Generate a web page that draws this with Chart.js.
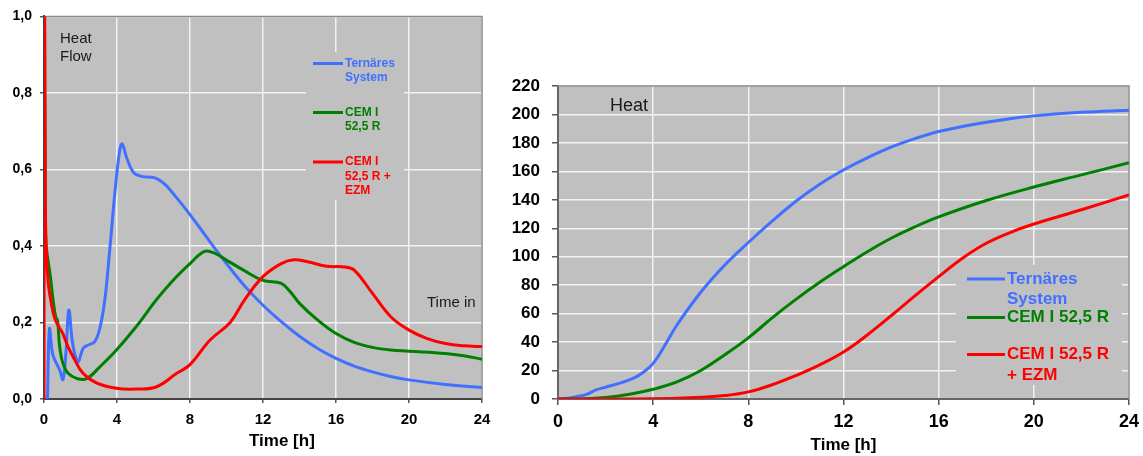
<!DOCTYPE html>
<html>
<head>
<meta charset="utf-8">
<script src="https://cdn.jsdelivr.net/npm/chart.js@4.4.1/dist/chart.umd.min.js"></script>
<style>
  html, body { margin: 0; padding: 0; background: #fff; }
  #wrap { position: relative; width: 1143px; height: 456px; overflow: hidden; }
  #flowChart { position: absolute; left: 0; top: 0; }
  #heatChart { position: absolute; left: 495px; top: 0; }
</style>
</head>
<body>
<div id="wrap">
  <canvas id="flowChart" width="495" height="456"></canvas>
  <canvas id="heatChart" width="648" height="456"></canvas>
</div>
<script>
// ---- legend labels ----
var seriesNames = ['Ternäres\nSystem', 'CEM I\n52,5 R', 'CEM I\n52,5 R +\nEZM'];
var seriesNamesHeat = ['Ternäres\nSystem', 'CEM I 52,5 R', 'CEM I 52,5 R\n+ EZM'];

// ---- data: heat flow (left), time in h ----
var flowBlueT = [0.19, 0.3, 0.46, 0.64, 0.86, 1.04, 1.2, 1.36, 1.54, 1.7, 1.87, 2.14, 2.42, 2.78, 3.06, 3.33, 3.6, 3.88, 4.12, 4.28, 4.52, 4.89, 5.34, 6.08, 6.6, 7.25, 8, 9, 10, 11, 12, 13, 14, 15, 16, 17, 18, 19, 20, 22, 24];
var flowBlueV = [0, 0.183, 0.12, 0.097, 0.076, 0.051, 0.12, 0.232, 0.154, 0.115, 0.097, 0.132, 0.141, 0.15, 0.185, 0.258, 0.389, 0.537, 0.64, 0.667, 0.632, 0.593, 0.582, 0.578, 0.562, 0.527, 0.482, 0.417, 0.354, 0.295, 0.245, 0.202, 0.164, 0.132, 0.106, 0.086, 0.071, 0.059, 0.05, 0.038, 0.03];

var flowGreenT = [0.02, 0.06, 0.1, 0.22, 0.35, 0.5, 0.64, 0.74, 0.86, 1.04, 1.32, 1.78, 2.33, 3.06, 3.97, 5.07, 6.17, 7.27, 8.0, 8.8, 9.4, 10, 11, 12, 13, 13.5, 14, 15, 16, 17, 18, 19, 20, 22, 23, 24];
var flowGreenV = [1.1, 0.55, 0.41, 0.363, 0.32, 0.258, 0.215, 0.205, 0.136, 0.093, 0.067, 0.054, 0.053, 0.084, 0.128, 0.19, 0.26, 0.32, 0.354, 0.386, 0.38, 0.363, 0.335, 0.31, 0.302, 0.28, 0.25, 0.206, 0.171, 0.148, 0.135, 0.128, 0.125, 0.119, 0.113, 0.104];

var flowRedT = [0, 0.02, 0.07, 0.1, 0.22, 0.4, 0.59, 0.8, 1.04, 1.32, 1.6, 2.14, 2.87, 3.97, 5.07, 6.17, 7.27, 8, 9.1, 10.2, 11, 12, 13, 13.7, 14.5, 15.5, 16.5, 17, 18, 19, 20, 21, 22, 23, 24];
var flowRedV = [0, 1.2, 0.6, 0.43, 0.31, 0.25, 0.21, 0.19, 0.17, 0.136, 0.11, 0.067, 0.042, 0.028, 0.026, 0.032, 0.067, 0.09, 0.154, 0.2, 0.26, 0.32, 0.354, 0.364, 0.358, 0.347, 0.345, 0.337, 0.276, 0.215, 0.18, 0.158, 0.145, 0.139, 0.137];

// ---- data: cumulative heat (right) ----
var heatBlueT = [0, 0.4, 0.8, 1.2, 1.6, 2, 2.6, 3.2, 3.6, 4, 4.5, 5, 6, 7, 8, 9, 10, 11, 12, 13, 14, 15, 16, 17, 18, 19, 20, 22, 24];
var heatBlueV = [0, 0.5, 1.7, 3.3, 6.4, 8.3, 11.2, 14.8, 19, 25, 38, 52, 75, 94, 110, 125, 139, 151, 161, 169.5, 177, 183, 188, 191.5, 194.5, 197, 199, 201.5, 203];

var heatGreenT = [0, 1, 2, 3, 4, 5, 6, 7, 8, 9, 10, 11, 12, 13, 14, 15, 16, 18, 20, 22, 24];
var heatGreenV = [0, 0, 1, 3.3, 6.8, 12, 20, 31, 43, 57, 70, 82, 93, 103.5, 113, 121, 128, 139.5, 149, 157.5, 166];

var heatRedT = [0, 2, 4, 5, 6, 7, 8, 9, 10, 11, 12, 13, 14, 15, 16, 17, 18, 19, 20, 22, 24];
var heatRedV = [0, 0, 0.2, 0.5, 1.2, 2.4, 5, 10, 16.5, 24, 33, 45, 58.5, 72.5, 86, 99, 109.5, 117, 123, 133, 143.5];

var BLUE = '#4070ff';
var GREEN = '#008000';
var RED = '#ff0000';
var FONT = '"Liberation Sans", Arial, sans-serif';

function pts(t, v) {
    return t.map(function(x, i) { return {x: x, y: v[i]}; });
}

function line(label, t, v, color, order) {
    return {
        label: label,
        data: pts(t, v),
        borderColor: color,
        borderWidth: 3,
        pointRadius: 0,
        fill: false,
        tension: 0.4,
        order: order
    };
}

// draws grey plot area, frame, notes and the in-plot legend
function panel(s) {
    return {
        id: 'panel',
        beforeDraw: function(chart) {
            var ctx = chart.ctx, a = chart.chartArea;
            ctx.save();
            ctx.fillStyle = '#c0c0c0';
            ctx.fillRect(a.left, a.top, a.right - a.left, a.bottom - a.top);
            ctx.restore();
        },
        beforeDatasetsDraw: function(chart) {
            var ctx = chart.ctx, a = chart.chartArea;
            ctx.save();
            ctx.strokeStyle = '#8a8a8a';
            ctx.lineWidth = 1.5;
            ctx.beginPath();
            ctx.moveTo(a.left, a.top);
            ctx.lineTo(a.right, a.top);
            ctx.lineTo(a.right, a.bottom);
            ctx.stroke();

            ctx.fillStyle = '#c0c0c0';
            ctx.fillRect(s.box[0], s.box[1], s.box[2], s.box[3]);

            ctx.textBaseline = 'middle';
            ctx.textAlign = 'left';
            ctx.fillStyle = '#1a1a1a';
            ctx.font = s.noteFont;
            s.notes.forEach(function(n) { ctx.fillText(n[0], n[1], n[2]); });

            ctx.font = s.legendFont;
            chart.data.datasets.forEach(function(ds, i) {
                var y = s.legendY[i];
                ctx.strokeStyle = ds.borderColor;
                ctx.lineWidth = 3;
                ctx.beginPath();
                ctx.moveTo(s.legendX, y);
                ctx.lineTo(s.legendX + s.lineLen, y);
                ctx.stroke();
                ctx.fillStyle = ds.borderColor;
                ds.label.split('\n').forEach(function(txt, j) {
                    ctx.fillText(txt, s.legendX + s.lineLen + 2, y + j * s.lineHeight);
                });
            });
            ctx.restore();
        }
    };
}

function axes(o) {
    var grid = {color: '#f2f2f2', lineWidth: 1.5, tickColor: '#555', tickLength: o.tick};
    return {
        x: {
            type: 'linear', min: 0, max: 24,
            afterFit: function(sc) { sc.height = o.xh; sc.paddingLeft = 0; sc.paddingRight = 0; },
            ticks: {stepSize: 4, color: '#000', padding: o.xpad, font: {family: FONT, size: o.xfont, weight: 'bold'}},
            grid: grid,
            border: {color: o.axisColor, width: 2},
            title: {display: true, text: o.title, color: '#000', padding: {top: 0, bottom: o.tpad},
                    font: {family: FONT, size: 17, weight: 'bold'}}
        },
        y: {
            min: 0, max: o.ymax,
            afterFit: function(sc) { sc.width = o.yw; },
            ticks: {stepSize: o.ystep, color: '#000', padding: o.ypad, font: {family: FONT, size: o.yfont, weight: 'bold'},
                    callback: o.fmt},
            grid: grid,
            border: {color: o.axisColor, width: 2}
        }
    };
}

new Chart(document.getElementById('flowChart'), {
    type: 'line',
    data: {
        datasets: [
            line(seriesNames[0], flowBlueT, flowBlueV, BLUE, 2),
            line(seriesNames[1], flowGreenT, flowGreenV, GREEN, 1),
            line(seriesNames[2], flowRedT, flowRedV, RED, 0)
        ]
    },
    options: {
        responsive: false,
        animation: false,
        layout: {padding: {left: 0, top: 16, right: 13, bottom: 0}},
        plugins: {legend: {display: false}, tooltip: {enabled: false}},
        scales: axes({
            tick: 4, xh: 57, xpad: 8, xfont: 15, tpad: 4, title: '        Time [h]',
            yw: 44, ypad: 8, yfont: 14, ymax: 1, ystep: 0.2, axisColor: '#444',
            fmt: function(v) { return v.toFixed(1).replace('.', ','); }
        })
    },
    plugins: [panel({
        box: [306, 52, 98, 148],
        notes: [['Heat', 60, 39], ['Flow', 60, 57], ['Time in', 427, 303]],
        noteFont: '15px ' + FONT,
        legendFont: 'bold 12px ' + FONT,
        legendX: 313, lineLen: 30, lineHeight: 14.3,
        legendY: [63.5, 112.5, 162]
    })]
});

new Chart(document.getElementById('heatChart'), {
    type: 'line',
    data: {
        datasets: [
            line(seriesNamesHeat[0], heatBlueT, heatBlueV, BLUE, 2),
            line(seriesNamesHeat[1], heatGreenT, heatGreenV, GREEN, 1),
            line(seriesNamesHeat[2], heatRedT, heatRedV, RED, 0)
        ]
    },
    options: {
        responsive: false,
        animation: false,
        layout: {padding: {left: 0, top: 86, right: 14, bottom: 0}},
        plugins: {legend: {display: false}, tooltip: {enabled: false}},
        scales: axes({
            tick: 6, xh: 57, xpad: 6, xfont: 18, tpad: 0, title: 'Time [h]',
            yw: 63, ypad: 12, yfont: 17, ymax: 220, ystep: 20, axisColor: '#666',
            fmt: function(v) { return v; }
        })
    },
    plugins: [panel({
        box: [461, 265, 166, 120],
        notes: [['Heat', 115, 106]],
        noteFont: '18px ' + FONT,
        legendFont: 'bold 17px ' + FONT,
        legendX: 472, lineLen: 38, lineHeight: 20.5,
        legendY: [279, 317.5, 354.5]
    })]
});
</script>
</body>
</html>
